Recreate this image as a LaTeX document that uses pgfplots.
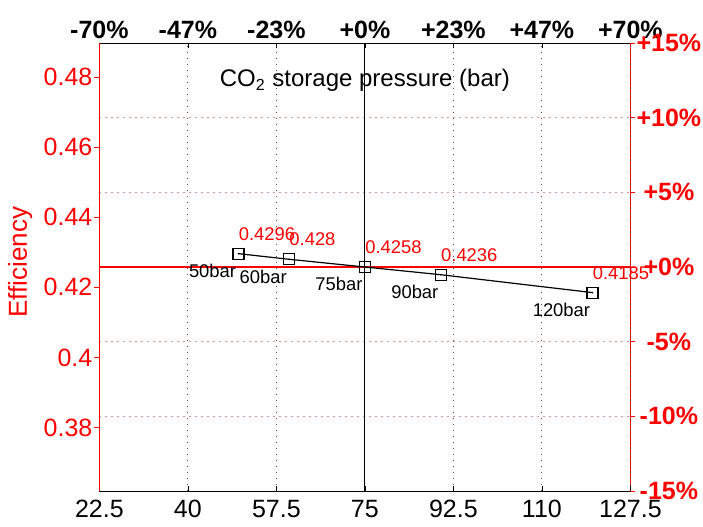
\documentclass[border=0pt]{standalone}
\usepackage{pgfplots}
\pgfplotsset{compat=1.18}
\usepackage{pgfplotstable}
\usepackage{fontspec}
\setmainfont{Liberation Sans}
\definecolor{mred}{RGB}{255,0,0}
\definecolor{gridred}{RGB}{215,150,150}
\definecolor{gridk}{RGB}{80,80,80}

\pgfplotstableread{
x y val lab
50 0.4296 0.4296 50bar
60 0.4280 0.428 60bar
75 0.4258 0.4258 75bar
90 0.4236 0.4236 90bar
120 0.4185 0.4185 120bar
}\effdata

\pgfplotsset{
  commonax/.style={
    scale only axis, width=265.5pt, height=224pt,
    at={(0,0)}, anchor=south west,
    xmin=22.5, xmax=127.5, ymin=0.36193, ymax=0.48967,
    /pgf/number format/assume math mode=true,
    tick align=inside, major tick length=2.5pt,
    clip=false,
  }
}

\begin{document}
\begin{tikzpicture}
% right / top axis (percent)
\begin{axis}[commonax,
  axis x line*=top, axis y line*=right,
  x axis line style={black,-}, y axis line style={mred,-},
  xtick={22.5,40,57.5,75,92.5,110,127.5},
  xticklabels={-70\%,-47\%,-23\%,+0\%,+23\%,+47\%,+70\%},
  xticklabel style={black, font=\bfseries\fontsize{12.5}{14}\selectfont, yshift=-1.3pt},
  xtick style={black},
  ytick={0.36193,0.38322,0.40451,0.4258,0.44709,0.46838,0.48967},
  yticklabels={-15\%,-10\%,-5\%,+0\%,+5\%,+10\%,+15\%},
  yticklabel style={mred, font=\bfseries\fontsize{12.5}{14}\selectfont, anchor=center, xshift=19.25pt},
  ytick style={mred, xshift=2.5pt},
  ymajorgrids, major y grid style={gridred, dash pattern=on 0.6pt off 2.4pt, line width=0.5pt},
]
\end{axis}
% left / bottom axis (data)
\begin{axis}[commonax,
  axis x line*=bottom, axis y line*=left,
  x axis line style={black,-}, y axis line style={mred,-},
  xtick={22.5,40,57.5,75,92.5,110,127.5},
  xticklabels={22.5,40,57.5,75,92.5,110,127.5},
  xticklabel style={black, font=\fontsize{12.5}{14}\selectfont, yshift=-1pt},
  xtick style={black},
  ytick={0.38,0.4,0.42,0.44,0.46,0.48},
  yticklabels={0.38,0.4,0.42,0.44,0.46,0.48},
  yticklabel style={mred, font=\fontsize{12.5}{14}\selectfont},
  ytick style={mred, xshift=-2.5pt},
  xmajorgrids, major x grid style={gridk, dash pattern=on 0.6pt off 2.4pt, line width=0.5pt},
]
\addplot[draw=mred, color=mred, line width=0.7pt, mark=none, forget plot] coordinates {(22.5,0.4258) (127.5,0.4258)};
\addplot[draw=black, line width=0.5pt, mark=none, forget plot] coordinates {(75,0.36193) (75,0.48967)};
\addplot[black, line width=0.6pt, mark=square, mark size=2.75pt, mark options={solid, line width=0.6pt}] table[x=x,y=y] {\effdata};
\addplot[only marks, mark=*, mark size=0.1pt, mark options={draw=none, fill=none},
  nodes near coords, point meta=explicit symbolic,
  nodes near coords style={mred, anchor=south west, inner sep=0pt, yshift=6.5pt, font=\fontsize{9.2}{10}\selectfont}]
  table[x=x,y=y,meta=val] {\effdata};
\addplot[only marks, mark=*, mark size=0.1pt, mark options={draw=none, fill=none},
  nodes near coords, point meta=explicit symbolic,
  nodes near coords style={black, anchor=north east, inner sep=0pt, xshift=-1pt, yshift=-5pt, font=\fontsize{9.2}{10}\selectfont}]
  table[x=x,y=y,meta=lab] {\effdata};
\node[anchor=base, font=\fontsize{12}{14}\selectfont] at (rel axis cs:0.5,0.9018) {CO\textsubscript{2} storage pressure (bar)};
\end{axis}
\node[mred, rotate=90, anchor=base, font=\fontsize{13}{15}\selectfont] at (-36.2pt,114.5pt) {Efficiency};
\pgfresetboundingbox
\path (-49.7pt,-17.5pt) rectangle (301.8pt,245.5pt);
\end{tikzpicture}
\end{document}
